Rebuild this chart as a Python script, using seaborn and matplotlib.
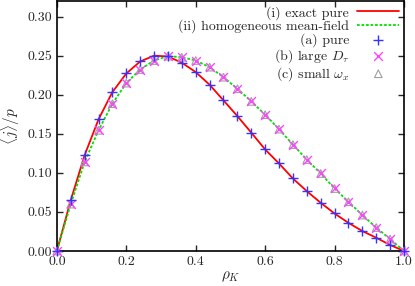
import numpy as np
import pandas as pd
import matplotlib
matplotlib.use("Agg")
import matplotlib.pyplot as plt
import seaborn as sns

# kink density values (sample points)
rho_k = [0.00, 0.04, 0.08, 0.12, 0.16, 0.20, 0.24, 0.28, 0.32, 0.36, 0.40, 0.44, 0.48,
         0.52, 0.56, 0.60, 0.64, 0.68, 0.72, 0.76, 0.80, 0.84, 0.88, 0.92, 0.96, 1.00]

# (i) exact pure / (a) pure simulation
exact_pure = [0.0, 0.065, 0.1226, 0.1685, 0.2034, 0.2272, 0.2426, 0.2500, 0.2490, 0.2410,
              0.2290, 0.2128, 0.1928, 0.1727, 0.1515, 0.1300, 0.1120, 0.0928, 0.0766,
              0.0617, 0.0480, 0.0360, 0.0255, 0.0170, 0.0077, 0.0]

# (ii) homogeneous mean-field / (b), (c) simulations
mean_field = [0.0, 0.060, 0.1140, 0.1545, 0.1886, 0.2149, 0.2323, 0.2438, 0.2494, 0.2480,
              0.2438, 0.2353, 0.2225, 0.2077, 0.1915, 0.1745, 0.1560, 0.1362, 0.1170,
              0.0992, 0.0800, 0.0630, 0.0460, 0.0300, 0.0153, 0.0]

sim_pure = exact_pure
sim_large_dtau = mean_field
sim_small_omega = mean_field

df = pd.DataFrame({"rho": rho_k, "exact": exact_pure, "mf": mean_field,
                   "a": sim_pure, "b": sim_large_dtau, "c": sim_small_omega})

sns.set_style("ticks")
plt.rcParams["font.family"] = "serif"
plt.rcParams["font.serif"] = ["cmr10", "DejaVu Serif"]
plt.rcParams["mathtext.fontset"] = "cm"
plt.rcParams["axes.formatter.use_mathtext"] = True
plt.rcParams["font.size"] = 10

fig = plt.figure(figsize=(4.15, 2.86), dpi=100)
ax = fig.add_axes([0.137, 0.1224, 0.9735 - 0.137, 0.9965 - 0.1224])

sns.lineplot(data=df, x="rho", y="exact", ax=ax, color="#ff0000", lw=1.3,
             label="(i) exact pure")
sns.lineplot(data=df, x="rho", y="mf", ax=ax, color="#00e000", lw=1.3,
             linestyle=(0, (1.5, 1)), label="(ii) homogeneous mean-field")
sns.scatterplot(data=df, x="rho", y="c", ax=ax, marker="^", s=30, facecolor="none",
                edgecolor="#a0a0a0", linewidth=0.8, label=r"(c) small $\omega_x$",
                zorder=3, clip_on=False)
sns.scatterplot(data=df, x="rho", y="b", ax=ax, marker="x", s=40, color="#ff44ff",
                linewidth=1.0, label=r"(b) large $D_\tau$", zorder=4, clip_on=False)
sns.scatterplot(data=df, x="rho", y="a", ax=ax, marker="+", s=55, color="#3333ff",
                linewidth=1.0, label="(a) pure", zorder=5, clip_on=False)

handles, labels = ax.get_legend_handles_labels()
order = [0, 1, 4, 3, 2]
ax.legend([handles[i] for i in order], [labels[i] for i in order],
          loc="upper right", frameon=False, markerfirst=False, handlelength=3.0,
          fontsize=10, labelspacing=0.0, borderpad=0.15, handletextpad=0.6,
          borderaxespad=0.2)

ax.set_xlim(0, 1)
ax.set_ylim(0, 0.32)
ax.set_xticks([0.0, 0.2, 0.4, 0.6, 0.8, 1.0])
ax.set_yticks([0.00, 0.05, 0.10, 0.15, 0.20, 0.25, 0.30])
ax.set_xticklabels(["0.0", "0.2", "0.4", "0.6", "0.8", "1.0"])
ax.set_yticklabels(["0.00", "0.05", "0.10", "0.15", "0.20", "0.25", "0.30"])
ax.tick_params(direction="in", top=True, right=True, length=4, width=1, labelsize=10)
for sp in ax.spines.values():
    sp.set_visible(True)
    sp.set_linewidth(1.2)
    sp.set_color("black")

ax.set_xlabel(r"$\rho_K$", fontsize=11, labelpad=1)
ax.set_ylabel(r"$\langle j\rangle/p$", fontsize=11, labelpad=4)

fig.savefig("out.png", dpi=100)
